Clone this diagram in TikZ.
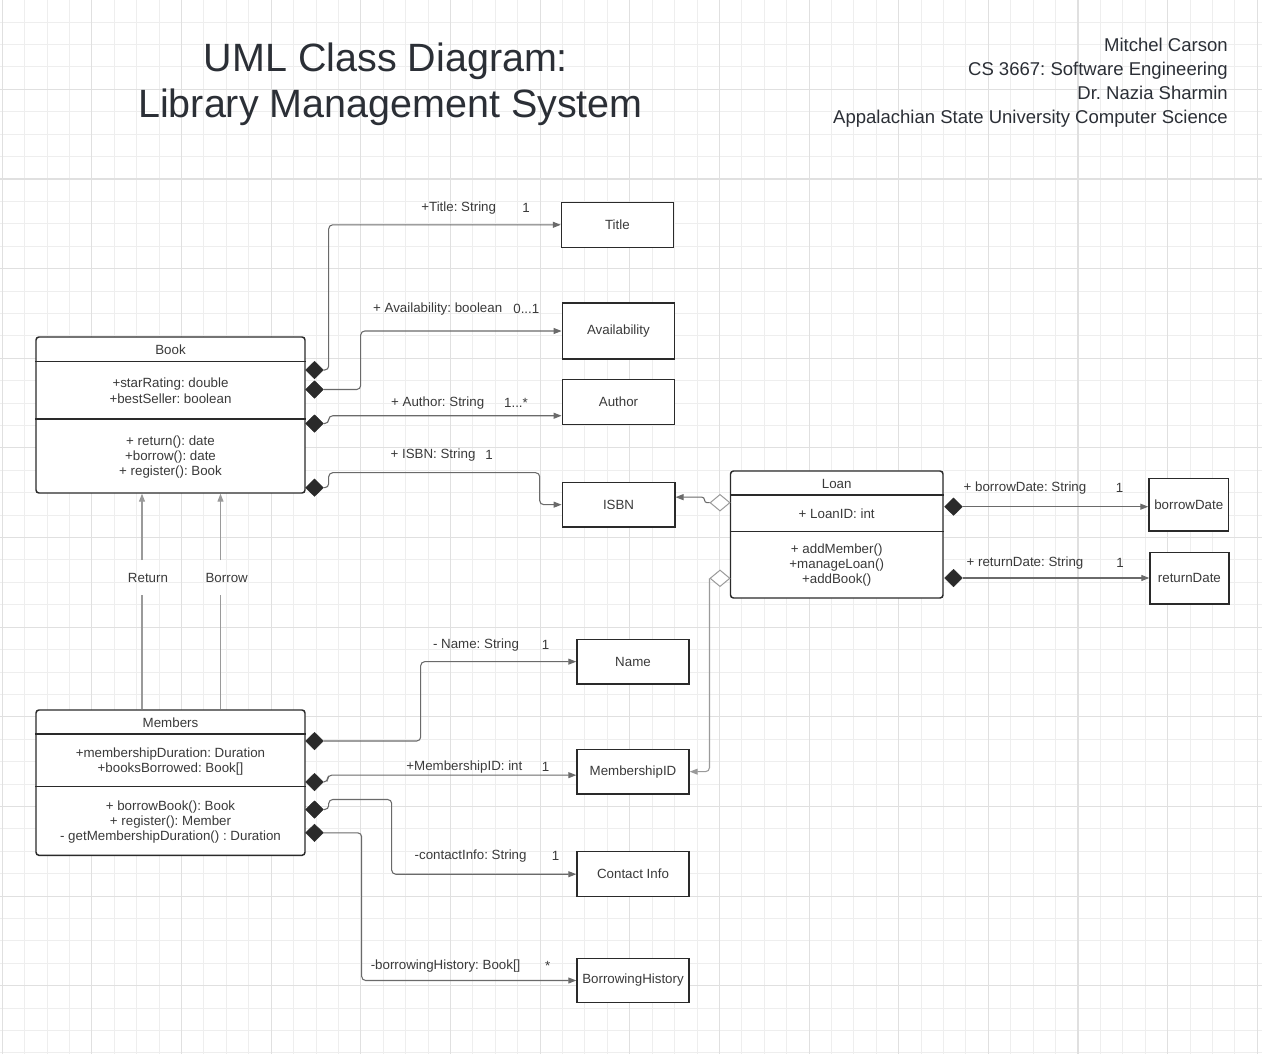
\documentclass[tikz,border=0pt]{standalone}
\usepackage{fontspec}
\setmainfont{Liberation Sans}
\usetikzlibrary{shapes.geometric,arrows.meta,fit,calc}
\definecolor{gridminor}{HTML}{EEEEEE}
\definecolor{gridmajor}{HTML}{E0E0E0}
\definecolor{ink}{HTML}{2A2A2A}
\definecolor{txt}{HTML}{3A3A3A}
\definecolor{wire}{HTML}{6A6A6A}
\definecolor{wirelight}{HTML}{9A9A9A}
\definecolor{titleink}{HTML}{2B2F36}
\frenchspacing
\begin{document}
\frenchspacing
\begin{tikzpicture}[x=0.75pt,y=-0.75pt,
  every node/.style={text=txt, font=\fontsize{10pt}{11.5pt}\selectfont},
  classbox/.style={draw=ink, line width=1.1pt, fill=white, rounded corners=2.25pt, inner sep=0pt},
  attrbox/.style={draw=ink, line width=1.1pt, fill=white, inner sep=0pt},
  divider/.style={draw=ink, line width=1.1pt},
  ctext/.style={align=center, inner sep=0pt},
  lbl/.style={inner sep=0pt},
  conn/.style={draw=wire, line width=0.8pt, rounded corners=3pt, -{Triangle[length=6pt,width=4.5pt]}},
  comp/.style={diamond, draw=ink, fill=ink, inner sep=0pt, minimum width=13.5pt, minimum height=13.2pt, line width=0.3pt},
  aggr/.style={diamond, draw=wirelight, fill=white, inner sep=0pt, minimum width=15pt, minimum height=12.5pt, line width=0.75pt},
  gridmin/.style={draw=gridminor, line width=0.75pt},
  gridmaj/.style={draw=gridmajor, line width=0.8pt},
]
\useasboundingbox (0,0) rectangle (1262,1054);
\fill[white] (0,0) rectangle (1262,1054);
% grid
\foreach \i in {0,...,56} {\pgfmathsetmacro\xx{2.3+22.41*\i}\draw[gridmin] (\xx,0) -- (\xx,1054);}
\foreach \i in {0,...,47} {\pgfmathsetmacro\yy{-0.3+22.41*\i}\draw[gridmin] (0,\yy) -- (1262,\yy);}
\foreach \i in {0,...,14} {\pgfmathsetmacro\xx{2.3+89.64*\i}\draw[gridmaj] (\xx,0) -- (\xx,1054);}
\foreach \i in {0,...,11} {\pgfmathsetmacro\yy{-0.3+89.64*\i}\draw[gridmaj] (0,\yy) -- (1262,\yy);}

% titles
\node[anchor=base, inner sep=0pt, text=titleink, font=\fontsize{29.6pt}{34.5pt}\selectfont] (t1) at (386,71) {UML Class Diagram:};
\node[anchor=base, inner sep=0pt, text=titleink, font=\fontsize{29.6pt}{34.5pt}\selectfont] (t2) at (390.5,117) {Library Management System};
\node[anchor=base east, inner sep=0pt, text=titleink, font=\fontsize{13.9pt}{18pt}\selectfont] (i1) at (1228,51.7) {Mitchel Carson};
\node[anchor=base east, inner sep=0pt, text=titleink, font=\fontsize{13.9pt}{18pt}\selectfont] (i2) at (1228,75.5) {CS 3667: Software Engineering};
\node[anchor=base east, inner sep=0pt, text=titleink, font=\fontsize{13.9pt}{18pt}\selectfont] (i3) at (1228,99.5) {Dr. Nazia Sharmin};
\node[anchor=base east, inner sep=0pt, text=titleink, font=\fontsize{13.9pt}{18pt}\selectfont] (i4) at (1228,123.5) {Appalachian State University Computer Science};

% Book class
\node[classbox, fit={(36,337)(305,493)}] (Book) {};
\draw[divider] ($(Book.north west)+(0,25)$) -- ($(Book.north east)+(0,25)$);
\draw[divider] ($(Book.north west)+(0,82.5)$) -- ($(Book.north east)+(0,82.5)$);
\node[ctext] (bookName) at (170.5,349.3) {Book};
\node[ctext] (bookAttr) at (170.5,390.8) {+starRating: double\\+bestSeller: boolean};
\node[ctext] (bookMeth) at (170.5,457.2) {+ return(): date\\+borrow(): date\\+ register(): Book};

% Members class
\node[classbox, fit={(36,710)(305,855.3)}] (Members) {};
\draw[divider] ($(Members.north west)+(0,24.5)$) -- ($(Members.north east)+(0,24.5)$);
\draw[divider] ($(Members.north west)+(0,77.3)$) -- ($(Members.north east)+(0,77.3)$);
\node[ctext] (memName) at (170.5,723) {Members};
\node[ctext] (memAttr) at (170.5,761.6) {+membershipDuration: Duration\\+booksBorrowed: Book[]};
\node[ctext] (memMeth) at (170.5,822.2) {+ borrowBook(): Book\\+ register(): Member\\- getMembershipDuration() : Duration};

% Loan class
\node[classbox, fit={(730.5,471)(943,598)}] (Loan) {};
\draw[divider] ($(Loan.north west)+(0,24.5)$) -- ($(Loan.north east)+(0,24.5)$);
\draw[divider] ($(Loan.north west)+(0,61)$) -- ($(Loan.north east)+(0,61)$);
\node[ctext] (loanName) at (836.7,483.5) {Loan};
\node[ctext] (loanAttr) at (836.7,513.5) {+ LoanID: int};
\node[ctext] (loanMeth) at (836.7,565.2) {+ addMember()\\+manageLoan()\\+addBook()};

% attribute boxes
\node[attrbox, fit={(561.5,202.3)(673.3,247.3)}] (Title) {};
\node[attrbox, fit={(562.3,303)(674.5,359)}] (Avail) {};
\node[attrbox, fit={(562.3,379.5)(674.7,424.5)}] (Author) {};
\node[attrbox, fit={(562.3,482.3)(674.8,527)}] (ISBN) {};
\node[attrbox, fit={(1149,478.3)(1228.5,531)}] (bDate) {};
\node[attrbox, fit={(1150,552.3)(1228.8,604)}] (rDate) {};
\node[attrbox, fit={(577,639.3)(689,684)}] (Name) {};
\node[attrbox, fit={(577,749.3)(689,794)}] (MemID) {};
\node[attrbox, fit={(577,851.7)(689,896.7)}] (Contact) {};
\node[attrbox, fit={(577,958.3)(689,1002.7)}] (BH) {};
\node[ctext] (TitleT) at (Title.center) {Title};
\node[ctext] (AvailT) at (Avail.center) {Availability};
\node[ctext] (AuthorT) at (Author.center) {Author};
\node[ctext] (ISBNT) at (ISBN.center) {ISBN};
\node[ctext] (bDateT) at (bDate.center) {borrowDate};
\node[ctext] (rDateT) at (rDate.center) {returnDate};
\node[ctext] (NameT) at (Name.center) {Name};
\node[ctext] (MemIDT) at (MemID.center) {MembershipID};
\node[ctext] (ContactT) at (Contact.center) {Contact Info};
\node[ctext] (BHT) at (BH.center) {BorrowingHistory};

% diamonds
\node[comp] (dT) at (314.5,370) {};
\node[comp] (dA) at (314.5,389.5) {};
\node[comp] (dAu) at (314.5,423.5) {};
\node[comp] (dI) at (314.5,487.7) {};
\node[comp] (dN) at (314.5,741) {};
\node[comp] (dM) at (314.5,782) {};
\node[comp] (dC) at (314.5,809.5) {};
\node[comp] (dH) at (314.5,832.8) {};
\node[comp] (dB) at (953.5,506.7) {};
\node[comp] (dR) at (953.5,578) {};
\node[aggr] (dLI) at (720,502.7) {};
\node[aggr] (dLM) at (720,578.3) {};

% connectors from Book
\draw[conn] (dT.east) -- ++(5,0) |- (Title.west);
\draw[conn] (dA.east) -- ++(37,0) |- (Avail.west);
\draw[conn] (dAu.east) -- ++(5,0) |- ($(Author.south west)+(0,-9.5)$);
\draw[conn] (dI.east) -- ++(5,0) -- ++(0,-15) -- ++(211,0) |- (ISBN.west);
% connectors from Loan
\draw[conn, rounded corners=2pt] (dLI.west) -- ++(-5,0) |- ($(ISBN.east)+(0,-7.5)$);
\draw[conn, draw=wirelight] (dLM.west) |- (MemID.east);
\draw[conn] (dB.east) -- (dB.east -| bDate.west);
\draw[conn] (dR.east) -- (dR.east -| rDate.west);
% connectors from Members
\draw[conn] (dN.east) -- ++(97,0) |- (Name.west);
\draw[conn] (dM.east) -- ++(4,0) |- ($(MemID.west)+(0,3.5)$);
\draw[conn] (dC.east) -- ++(5,0) -- ++(0,-10) -- ++(63,0) |- (Contact.west);
\draw[conn] (dH.east) -- ++(38,0) |- (BH.west);

% connector labels
\node[lbl] (lT) at (458.7,208.3) {+Title: String};
\node[lbl] (lT1) at (526,208.3) {1};
\node[lbl] (lA) at (437.7,309.3) {+ Availability: boolean};
\node[lbl] (lA1) at (526.3,309.3) {0...1};
\node[lbl] (lAu) at (437.7,402.7) {+ Author: String};
\node[lbl] (lAu1) at (516,402.7) {1...*};
\node[lbl] (lI) at (433,455) {+ ISBN: String};
\node[lbl] (lI1) at (489,455) {1};
\node[lbl] (lB) at (1025,487.7) {+ borrowDate: String};
\node[lbl] (lB1) at (1119.6,487.7) {1};
\node[lbl] (lR) at (1025,562.7) {+ returnDate: String};
\node[lbl] (lR1) at (1120,562.7) {1};
\node[lbl] (lN) at (476,645) {- Name: String};
\node[lbl] (lN1) at (545.5,645) {1};
\node[lbl] (lM) at (464.4,766.7) {+MembershipID: int};
\node[lbl] (lM1) at (545.5,766.7) {1};
\node[lbl] (lC) at (470.6,855.7) {-contactInfo: String};
\node[lbl] (lC1) at (555.5,855.7) {1};
\node[lbl] (lH) at (445.6,965.7) {-borrowingHistory: Book[]};
\node[lbl] (lH1) at (547.7,965.7) {*};

% Return / Borrow
\coordinate (rx) at (142,0);
\coordinate (bx) at (220.5,0);
\node[lbl, minimum height=25.5pt] (ret) at (148,577.5) {Return};
\node[lbl, minimum height=25.5pt] (bor) at (226.7,577.5) {Borrow};
\draw[draw=wirelight, line width=0.8pt] (Members.north -| rx) -- (ret.south -| rx);
\draw[conn, draw=wirelight] (ret.north -| rx) -- (Book.south -| rx);
\draw[draw=wirelight, line width=0.8pt] (Members.north -| bx) -- (bor.south -| bx);
\draw[conn, draw=wirelight] (bor.north -| bx) -- (Book.south -| bx);
\end{tikzpicture}
\end{document}
